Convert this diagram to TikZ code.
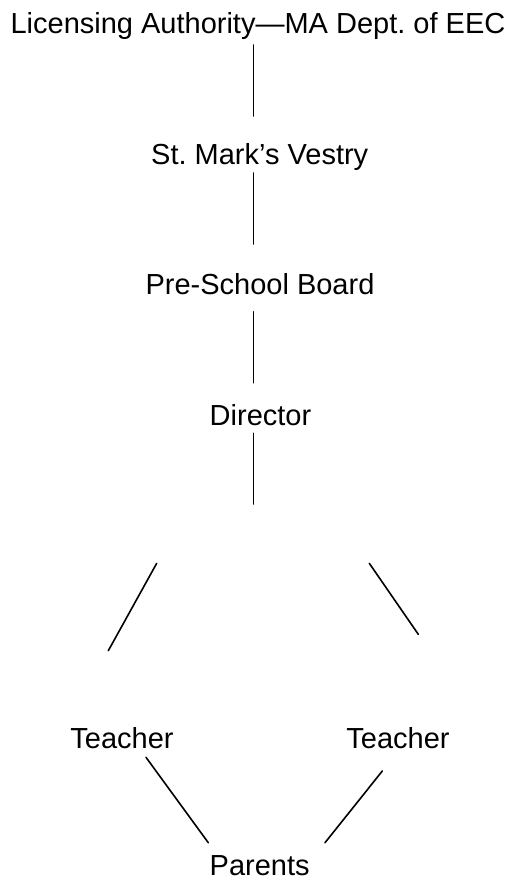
\documentclass[tikz,border=0pt]{standalone}
\usepackage{fontspec}
\setmainfont{Liberation Sans}
\frenchspacing
\begin{document}
\begin{tikzpicture}[x=0.5pt, y=-0.5pt, font=\fontsize{14.5}{17}\selectfont, line join=round, line cap=round,
		every node/.style={inner sep=0pt, anchor=base}, link/.style={line width=0.8pt}]
			\useasboundingbox (0,0) rectangle (511,880);
			\node (lic) at (258,33.3) {Licensing Authority—MA Dept. of EEC};
			\node (ves) at (259.7,164.3) {St. Mark’s Vestry};
			\node (brd) at (260,294) {Pre-School Board};
			\node (dir) at (260.5,425.7) {Director};
			\node (tl) at (122,748.3) {Teacher};
			\node (tr) at (398,748.3) {Teacher};
			\node (par) at (259.7,875) {Parents};
			% chain down the middle
			\foreach \a/\b [count=\i] in {45/116, 173/244, 311.7/382.7, 433.3/504}
			{
				\coordinate (up\i) at (253.5,\a);
				\coordinate (dn\i) at (253.5,\b);
				\draw[link] (up\i)--(dn\i);
			}
			% loose diagonals
			\coordinate (la) at (156.7,563.3); \coordinate (lb) at (108.3,650.7);
			\coordinate (ra) at (369.3,563.3); \coordinate (rb) at (418.3,634.3);
			\draw[link] (la)--(lb);
			\draw[link] (ra)--(rb);
			\coordinate (pl) at (146,757.3); \coordinate (pla) at (208.3,842.7);
			\coordinate (pr) at (382.3,771); \coordinate (pra) at (325,842.7);
			\draw[link] (pl)--(pla);
			\draw[link] (pr)--(pra);
		\end{tikzpicture}
\end{document}
